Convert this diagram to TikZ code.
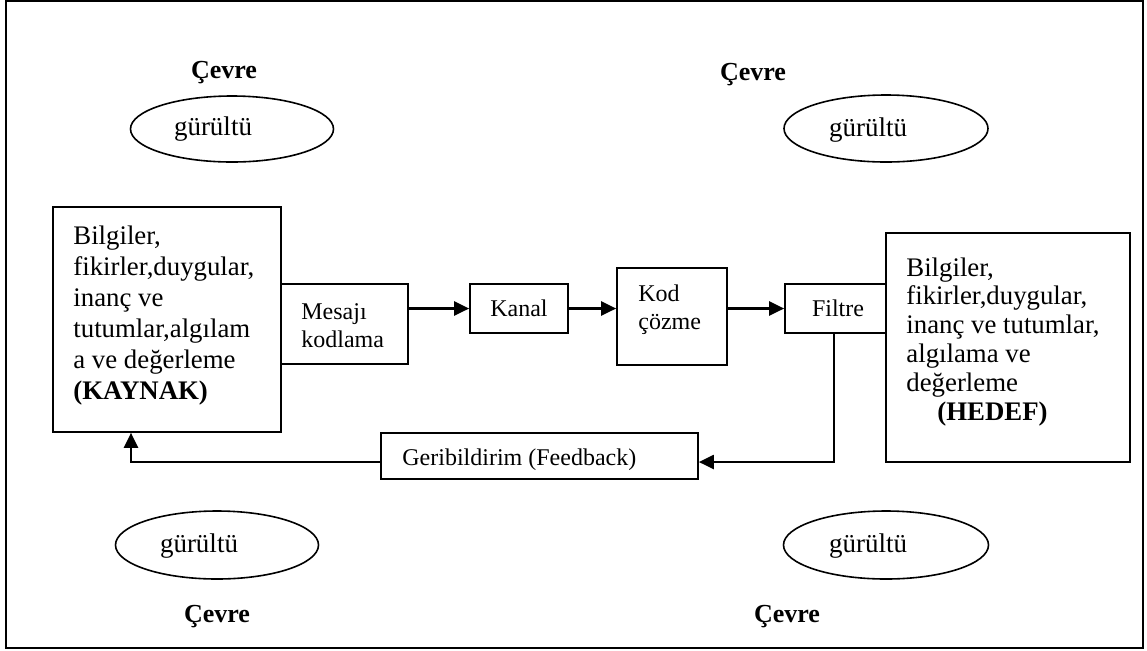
\documentclass[tikz,border=0pt]{standalone}
\usepackage{fontspec}
\setmainfont{Liberation Serif}
\usetikzlibrary{shapes.geometric,arrows.meta}
\begin{document}
\begin{tikzpicture}[x=0.5pt,y=-0.5pt,
  box/.style={draw,line width=0.85pt,rectangle,inner sep=0pt},
  ell/.style={draw,line width=0.8pt,ellipse,inner sep=0pt},
  small/.style={font=\fontsize{12}{14}\selectfont,inner sep=0pt,align=left},
  big/.style={font=\fontsize{13.4}{15.5}\selectfont,inner sep=0pt,align=left,anchor=north west},
  bigr/.style={font=\fontsize{13.4}{14.4}\selectfont,inner sep=0pt,align=left,anchor=north west},
  noise/.style={font=\fontsize{13.5}{15}\selectfont,inner sep=0pt},
  env/.style={font=\fontsize{13}{15}\selectfont\bfseries,inner sep=0pt},
  arr/.style={line width=1.1pt,-{Triangle[length=7.5pt,width=7pt]}}]
\useasboundingbox (0,0) rectangle (1147,650);
\draw[line width=0.6pt] (6,1) rectangle (1143,648);

% environment labels
\node[env] (c1) at (224,73) {Çevre};
\node[env] (c2) at (753,75) {Çevre};
\node[env] (c3) at (217,617) {Çevre};
\node[env] (c4) at (787,617) {Çevre};

% noise ellipses
\node[ell,minimum width=101.5pt,minimum height=33pt] (e1) at (232,129) {};
\node[ell,minimum width=102pt,minimum height=33.5pt] (e2) at (886,128.5) {};
\node[ell,minimum width=101.5pt,minimum height=34pt] (e3) at (217,545) {};
\node[ell,minimum width=102.5pt,minimum height=34pt] (e4) at (886,545) {};
\node[noise] (n1) at (213,129) {gürültü};
\node[noise] (n2) at (868,130) {gürültü};
\node[noise] (n3) at (199,546) {gürültü};
\node[noise] (n4) at (868,546) {gürültü};

% boxes
\node[box,minimum width=114pt,minimum height=112.5pt] (kaynak) at (167,319.5) {};
\node[box,minimum width=63.5pt,minimum height=40pt] (mesaj) at (344.5,324) {};
\node[box,minimum width=49pt,minimum height=24.5pt] (kanal) at (519,308.5) {};
\node[box,minimum width=55pt,minimum height=48.5pt] (kod) at (672,316.5) {};
\node[box,minimum width=50.5pt,minimum height=24.5pt] (filtre) at (835.5,308.5) {};
\node[box,minimum width=122pt,minimum height=114.5pt] (hedef) at (1008,347.5) {};
\node[box,minimum width=158.5pt,minimum height=23pt] (geri) at (539.5,456) {};

% texts
\node[big] (tk) at (73,225) {Bilgiler,\\fikirler,duygular,\\inanç ve\\tutumlar,algılam\\a ve değerleme\\\textbf{(KAYNAK)}};
\node[bigr] (th) at (906,257) {Bilgiler,\\fikirler,duygular,\\inanç ve tutumlar,\\algılama ve\\değerleme\\\hspace*{15.5pt}\textbf{(HEDEF)}};
\node[small,anchor=north west] (tm) at (301,303.5) {Mesajı\\kodlama};
\node[small,anchor=north west] (tkod) at (638,284) {Kod\\çözme};
\node[small] (tkan) at (519,308) {Kanal};
\node[small] (tf) at (838,308) {Filtre};
\node[small,anchor=west] (tg) at (402,460) {Geribildirim (Feedback)};

% connectors
\draw[arr] (mesaj.east |- kanal.west) -- (kanal.west);
\draw[arr] (kanal.east) -- (kod.west |- kanal.east);
\draw[arr] (kod.east |- filtre.west) -- (filtre.west);
\coordinate (fb) at (834,462);
\draw[arr] (filtre.south -| fb) -- (fb) -- (geri.east |- fb);
\coordinate (fl) at (131,462);
\draw[arr] (geri.west |- fl) -- (fl) -- (fl |- kaynak.south);
\end{tikzpicture}
\end{document}
